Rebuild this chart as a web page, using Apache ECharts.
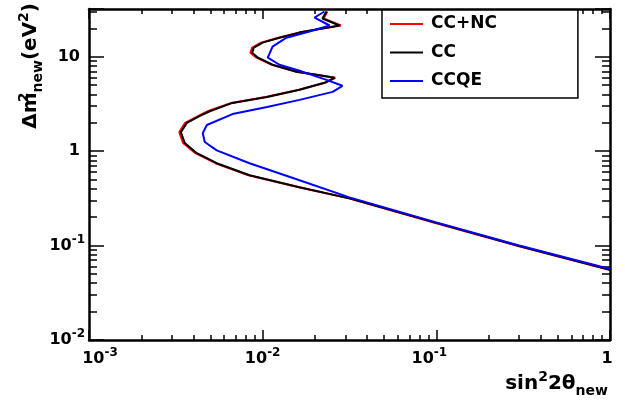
<!DOCTYPE html>
<html><head><meta charset="utf-8">
<script src="https://cdn.jsdelivr.net/npm/echarts@6/dist/echarts.min.js"></script>
<style>html,body{margin:0;padding:0;background:#fff}#c{width:625px;height:400px}</style>
</head><body><div id="c"></div>
<script>
const seriesNames = ['CC+NC', 'CC', 'CCQE'];
const seriesColors = ['#ff0000', '#000000', '#0000ff'];

const ccncSin2 = [0.0236,0.0224,0.0282,0.0235,0.0161,0.0123,0.0098,0.0087,0.0085,0.0092,0.0113,0.0156,0.0204,0.0262,0.0228,0.0162,0.0104,0.0066,0.00487,0.00427,0.00358,0.00331,0.00348,0.00410,0.00535,0.0083,0.0161,0.0314,0.100,0.300,1.0];
const ccncDm2  = [30.1,25.4,21.4,20.3,18.0,15.9,14.1,12.5,11.0,9.76,8.22,6.92,6.44,5.98,5.29,4.46,3.75,3.24,2.66,2.36,1.99,1.59,1.22,0.952,0.745,0.555,0.414,0.316,0.172,0.098,0.0552];

const ccSin2 = [0.0233,0.0221,0.0277,0.0233,0.0163,0.0125,0.0100,0.0089,0.0087,0.0094,0.0114,0.0157,0.0204,0.0259,0.0227,0.0163,0.0106,0.0067,0.0050,0.00435,0.00366,0.00338,0.00356,0.00418,0.00544,0.0084,0.0163,0.0316,0.100,0.300,1.0];
const ccDm2  = [30.1,25.4,21.4,20.3,18.0,15.9,14.1,12.5,11.0,9.76,8.22,6.92,6.44,5.98,5.29,4.46,3.75,3.24,2.66,2.36,1.99,1.59,1.22,0.952,0.745,0.555,0.414,0.316,0.174,0.099,0.0555];

const ccqeSin2 = [0.0227,0.0199,0.0243,0.0186,0.0137,0.0114,0.0107,0.0125,0.0163,0.0233,0.0288,0.0253,0.0163,0.0106,0.0067,0.00477,0.00452,0.00464,0.00544,0.0084,0.0163,0.0316,0.100,0.300,1.0];
const ccqeDm2  = [30.1,26.0,21.4,18.5,15.9,12.8,9.76,8.22,7.10,5.69,4.92,4.24,3.49,2.94,2.47,1.89,1.55,1.25,1.02,0.745,0.491,0.324,0.176,0.100,0.0565];

const xRange = [0.001, 1];
const yRange = [0.01, 32];
const minorMultipliers = [2,3,4,5,6,7,8,9];

function pairs(xs, ys) { return xs.map((x, i) => [x, ys[i]]); }
function minorExps(range) {
  const lo = Math.log10(range[0]), hi = Math.log10(range[1]);
  const out = [];
  for (let d = Math.floor(lo); d < Math.ceil(hi); d++) {
    minorMultipliers.forEach(k => { const v = d + Math.log10(k); if (v > lo && v < hi) out.push(v); });
  }
  return out;
}
function decade(v) {
  const e = Math.round(Math.log10(v));
  if (Math.abs(v / Math.pow(10, e) - 1) > 1e-6) return null;
  return e;
}
const FF = 'DejaVu Sans';
const baseRich = {
  b: {fontFamily: FF, fontWeight: 'bold', fontSize: 16, lineHeight: 24, color: '#000'},
  s: {fontFamily: FF, fontWeight: 'bold', fontSize: 12, color: '#000', verticalAlign: 'top'}
};
const xRich = Object.assign({}, baseRich, {
  bl: Object.assign({}, baseRich.b, {padding: [0, 0, 0, 22]}),
  sr: Object.assign({}, baseRich.s, {padding: [0, 14, 0, 0]}),
  pr: Object.assign({}, baseRich.b, {padding: [0, 6, 0, 0]})
});
const yRich = Object.assign({}, baseRich, {
  p: Object.assign({}, baseRich.b, {padding: [0, 5, 0, 0]})
});
function xFmt(v) {
  const e = decade(v);
  if (e === null) return '';
  if (e === 0) return '{pr|1}';
  if (e === -3) return '{bl|10}{s|-3}';
  if (e === -1) return '{b|10}{sr|-1}';
  return '{b|10}{s|' + e + '}';
}
function yFmt(v) {
  const e = decade(v);
  if (e === null) return '';
  if (e === 0) return '{p|1}';
  if (e === 1) return '{p|10}';
  return '{b|10}{s|' + e + '}';
}
const black = '#000';
const frame = {show: true, onZero: false, lineStyle: {color: black, width: 2.5}};
const tickStyle = {color: black, width: 1.5};

function logAxis(pos, range, fmt, rich, majorLen, withLabels) {
  return {
    type: 'log', logBase: 10, min: range[0], max: range[1], position: pos,
    axisLine: frame,
    axisTick: {show: true, inside: true, length: majorLen, lineStyle: tickStyle},
    axisLabel: withLabels ? {show: true, formatter: fmt, rich: rich, margin: (pos === 'bottom' ? 7 : 4), hideOverlap: false} : {show: false},
    splitLine: {show: false}, minorTick: {show: false}
  };
}
function minorAxis(pos, range, len) {
  return {
    type: 'value', min: Math.log10(range[0]), max: Math.log10(range[1]), position: pos,
    axisLine: {show: false, onZero: false},
    axisTick: {show: true, inside: true, length: len, lineStyle: tickStyle, customValues: minorExps(range)},
    axisLabel: {show: false}, splitLine: {show: false}
  };
}

const chart = echarts.init(document.getElementById('c'), null, {renderer: 'canvas'});
const datasets = [pairs(ccncSin2, ccncDm2), pairs(ccSin2, ccDm2), pairs(ccqeSin2, ccqeDm2)];

chart.setOption({
  animation: false,
  backgroundColor: '#fff',
  grid: {left: 89, right: 15, top: 9, bottom: 60, containLabel: false, outerBoundsMode: 'none'},
  xAxis: [
    logAxis('bottom', xRange, xFmt, xRich, 10, true),
    minorAxis('bottom', xRange, 5),
    logAxis('top', xRange, xFmt, xRich, 10, false),
    minorAxis('top', xRange, 5)
  ],
  yAxis: [
    logAxis('left', yRange, yFmt, yRich, 15, true),
    minorAxis('left', yRange, 8),
    logAxis('right', yRange, yFmt, yRich, 15, false),
    minorAxis('right', yRange, 8)
  ],
  legend: {
    show: true, orient: 'vertical', left: 382, top: 10,
    padding: [4, 81, 7, 8],
    backgroundColor: '#fff', borderColor: black, borderWidth: 1.5,
    icon: 'rect', itemWidth: 33, itemHeight: 2, itemGap: 8.5,
    selectedMode: false,
    textStyle: {fontFamily: FF, fontWeight: 'bold', fontSize: 17, color: black, lineHeight: 20, padding: [0, 0, 0, 3]},
    data: seriesNames
  },
  series: seriesNames.map((n, i) => ({
    name: n, type: 'line', xAxisIndex: 0, yAxisIndex: 0,
    data: datasets[i], symbol: 'none', showSymbol: false, smooth: false,
    color: seriesColors[i],
    itemStyle: {color: seriesColors[i]},
    lineStyle: {color: seriesColors[i], width: 2},
    z: 3 + i
  })),
  graphic: [
    {
      type: 'text', x: 45, y: 3, rotation: Math.PI / 2, z: 10,
      style: {
        text: '{a|Δm}{sp|2}{sb|new}{a|(eV}{su|2}{a|)}',
        align: 'right', verticalAlign: 'bottom', fill: black,
        rich: {
          a: {fontFamily: FF, fontWeight: 'bold', fontSize: 20, lineHeight: 28, fill: black},
          sp: {fontFamily: FF, fontWeight: 'bold', fontSize: 14, fill: black, verticalAlign: 'top', width: 0},
          sb: {fontFamily: FF, fontWeight: 'bold', fontSize: 14, fill: black, verticalAlign: 'bottom'},
          su: {fontFamily: FF, fontWeight: 'bold', fontSize: 14, fill: black, verticalAlign: 'top'}
        }
      }
    },
    {
      type: 'text', x: 608, y: 398, z: 10,
      style: {
        text: '{a|sin}{su|2}{a|2θ}{sb|new}',
        align: 'right', verticalAlign: 'bottom', fill: black,
        rich: {
          a: {fontFamily: FF, fontWeight: 'bold', fontSize: 20, lineHeight: 28, fill: black},
          su: {fontFamily: FF, fontWeight: 'bold', fontSize: 14, fill: black, verticalAlign: 'top'},
          sb: {fontFamily: FF, fontWeight: 'bold', fontSize: 14, fill: black, verticalAlign: 'bottom'}
        }
      }
    }
  ]
});
</script>
</body></html>
